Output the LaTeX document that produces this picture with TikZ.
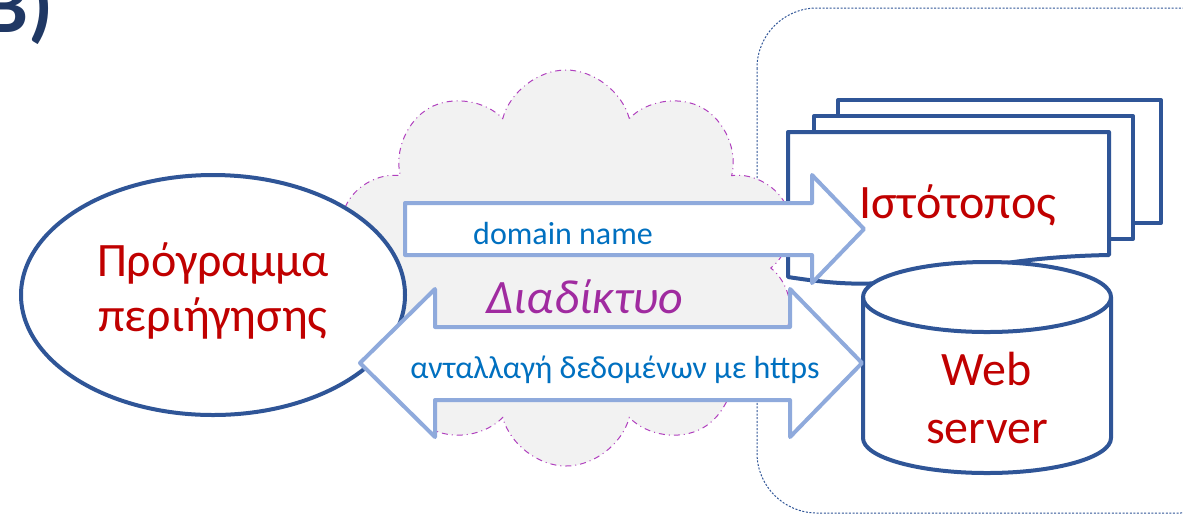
\documentclass[tikz,border=0pt]{standalone}
\usepackage{fontspec}
\setmainfont{Carlito}
\usetikzlibrary{shapes.geometric,shapes.symbols}
\definecolor{navy}{RGB}{47,85,151}
\definecolor{darknavy}{RGB}{32,56,100}
\definecolor{arrowblue}{RGB}{143,170,220}
\definecolor{textred}{RGB}{192,0,0}
\definecolor{textblue}{RGB}{0,112,192}
\definecolor{netpurple}{RGB}{160,43,160}
\definecolor{cloudfill}{RGB}{242,242,242}
\definecolor{cloudline}{RGB}{176,64,190}
\tikzset{
  shapeline/.style={draw=navy, line width=2pt, fill=white, line join=round},
  arrowshape/.style={draw=arrowblue, line width=2pt, fill=white, line join=round},
  bigtext/.style={text=textred, font=\fontsize{24}{28}\selectfont, align=center, inner sep=0pt},
  arrowtext/.style={text=textblue, font=\fontsize{16}{19}\selectfont, inner sep=0pt},
  container/.style={draw=navy, line width=0.5pt, dash pattern=on 1pt off 0.8pt, rounded corners=30pt},
}
\begin{document}
\begin{tikzpicture}[x=0.5pt,y=-0.5pt]
\useasboundingbox (0,0) rectangle (1183,516);
\clip (0,0) rectangle (1183,516);
% server container
\draw[container] (757,8) rectangle (1240,513);
% cloud
\node[cloud, cloud puffs=10, cloud ignores aspect, minimum width=232pt, minimum height=198pt,
      fill=cloudfill, draw=cloudline, line width=0.5pt, dash dot] (net) at (566,268) {};
% browser ellipse
\node[ellipse, shapeline, minimum width=192pt, minimum height=120pt] (browser) at (213,295) {};
\node[bigtext, anchor=base] (browsertxt1) at (213,276) {Πρόγραμμα};
\node[bigtext, anchor=base] (browsertxt2) at (213,331) {περιήγησης};
% stacked pages
\node[shapeline, rectangle, minimum width=161.5pt, minimum height=61.5pt, inner sep=0pt] (page3) at (999.5,161.5) {};
\node[shapeline, rectangle, minimum width=159.5pt, minimum height=61.5pt, inner sep=0pt] (page2) at (973.5,177.5) {};
\coordinate (p1a) at (788,132);
\coordinate (p1b) at (1109,132);
\coordinate (p1c) at (1109,255);
\coordinate (p1d) at (880,283);
\coordinate (p1e) at (788,277);
\path[shapeline] (p1a) -- (p1b) -- (p1c) .. controls (1000,257) and (950,276) .. (p1d)
   .. controls (850,285) and (820,282) .. (p1e) -- cycle;
\node[bigtext, anchor=base] (site) at (958,218) {Ιστότοπος};
% cylinder
\coordinate (c1) at (863,297);
\coordinate (c2) at (863,438);
\coordinate (c3) at (1111,438);
\coordinate (c4) at (1111,297);
\path[shapeline] (c1) -- (c2) arc[start angle=180, end angle=360, x radius=62pt, y radius=17.5pt]
   -- (c4) arc[start angle=0, end angle=180, x radius=62pt, y radius=17.5pt] -- cycle;
\draw[navy, line width=2pt] (c1) arc[start angle=180, end angle=360, x radius=62pt, y radius=17.5pt];
\node[bigtext, anchor=base] (web) at (987,385) {Web};
\node[bigtext, anchor=base] (server) at (987,443) {server};
% domain name arrow
\coordinate (d1) at (405,203);
\coordinate (d2) at (812,203);
\coordinate (d3) at (812,175);
\coordinate (d4) at (864,229);
\coordinate (d5) at (812,283);
\coordinate (d6) at (812,255);
\coordinate (d7) at (405,255);
\path[arrowshape] (d1) -- (d2) -- (d3) -- (d4) -- (d5) -- (d6) -- (d7) -- cycle;
\node[arrowtext, anchor=base] (dn) at (563,244) {domain name};
% double arrow
\coordinate (e1) at (360,363);
\coordinate (e2) at (435,289);
\coordinate (e3) at (435,327);
\coordinate (e4) at (790,327);
\coordinate (e5) at (790,289);
\coordinate (e6) at (862,363);
\coordinate (e7) at (790,437);
\coordinate (e8) at (790,400);
\coordinate (e9) at (435,400);
\coordinate (e10) at (435,437);
\path[arrowshape] (e1) -- (e2) -- (e3) -- (e4) -- (e5) -- (e6) -- (e7) -- (e8) -- (e9) -- (e10) -- cycle;
\node[arrowtext, anchor=base] (https) at (615,378) {ανταλλαγή δεδομένων με https};
% internet label
\node[text=netpurple, font=\fontsize{24}{28}\selectfont\itshape, inner sep=0pt, anchor=base] (inet) at (585,313) {Διαδίκτυο};
% title
\node[text=darknavy, font=\fontsize{40}{48}\selectfont\bfseries, inner sep=0pt, anchor=base west] (title) at (-17,32) {B)};
\end{tikzpicture}
\end{document}
